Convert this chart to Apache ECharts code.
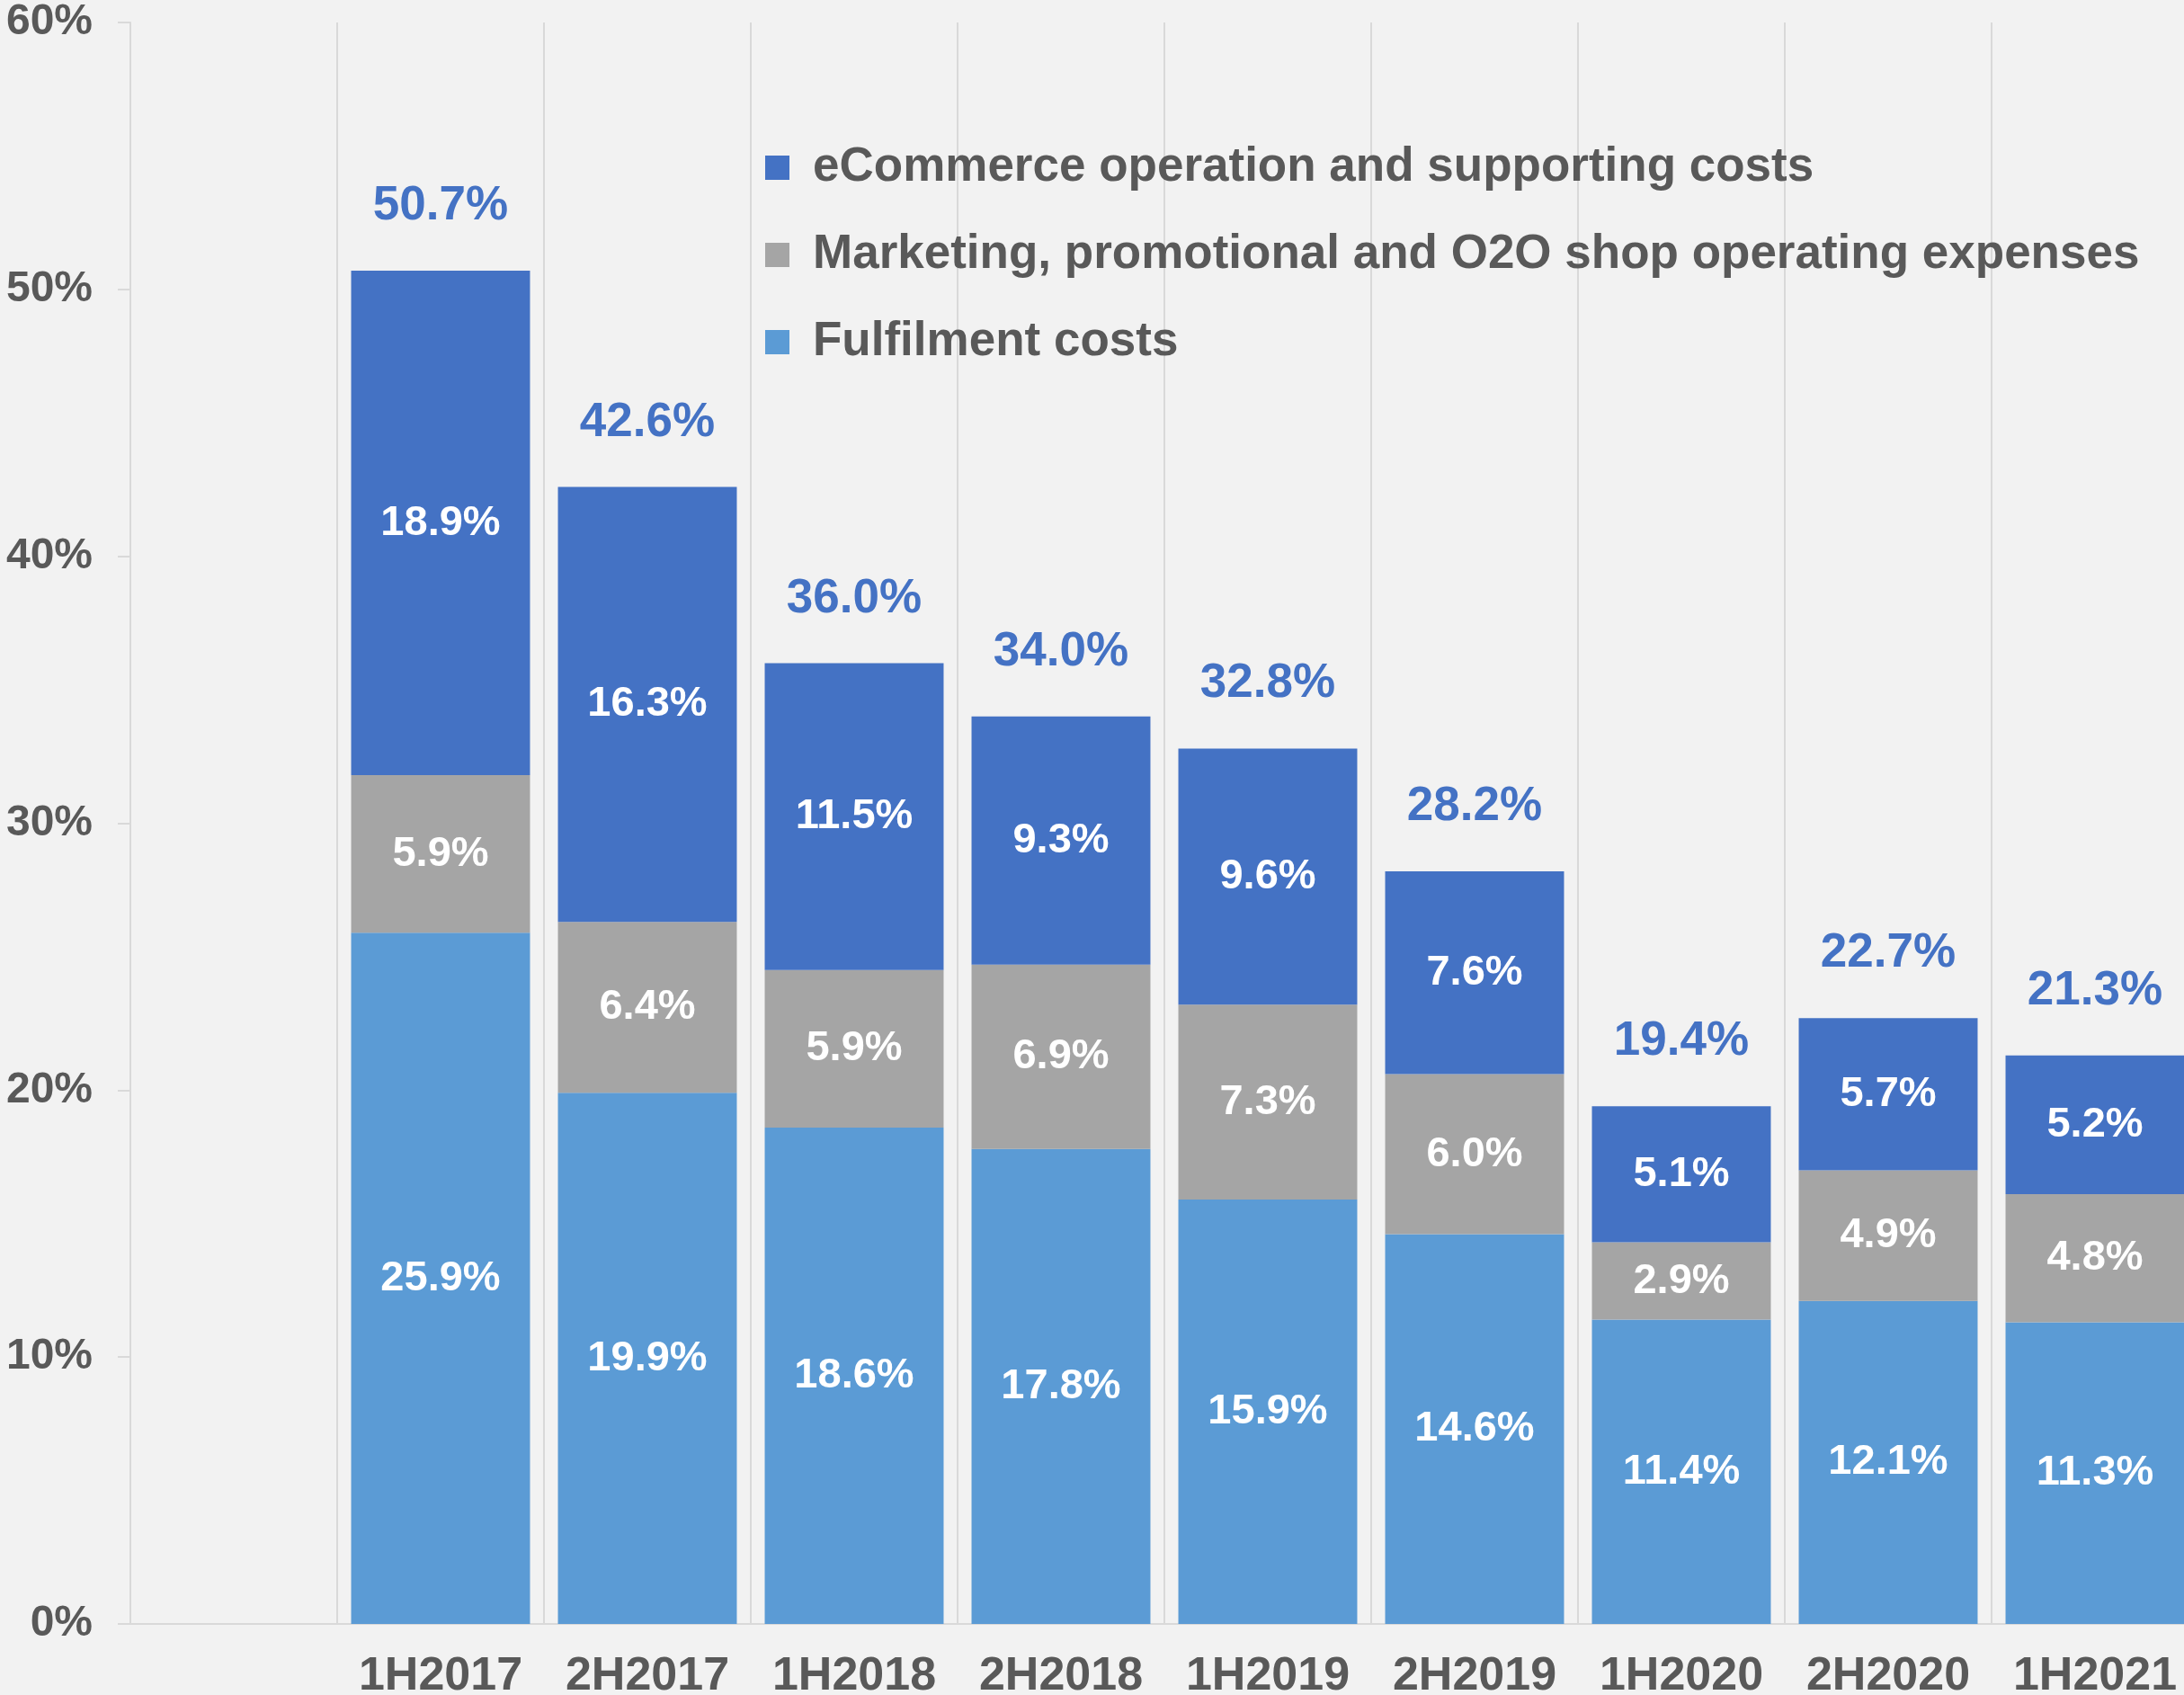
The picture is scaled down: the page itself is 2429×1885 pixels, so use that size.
<!DOCTYPE html>
<html>
<head>
<meta charset="utf-8">
<script src="https://cdn.jsdelivr.net/npm/echarts@6/dist/echarts.min.js"></script>
<style>
html,body{margin:0;padding:0;background:#F2F2F2;}
#chart{width:2429px;height:1885px;}
</style>
</head>
<body>
<div id="chart"></div>
<script>
const categories = ['', '1H2017', '2H2017', '1H2018', '2H2018', '1H2019', '2H2019', '1H2020', '2H2020', '1H2021'];
const fulfilment = [null, 25.9, 19.9, 18.6, 17.8, 15.9, 14.6, 11.4, 12.1, 11.3];
const marketing = [null, 5.9, 6.4, 5.9, 6.9, 7.3, 6.0, 2.9, 4.9, 4.8];
const ecommerce = [null, 18.9, 16.3, 11.5, 9.3, 9.6, 7.6, 5.1, 5.7, 5.2];
const totals = [null, 50.7, 42.6, 36.0, 34.0, 32.8, 28.2, 19.4, 22.7, 21.3];
const yTicks = [0, 10, 20, 30, 40, 50, 60];

const names = {
  ecom: 'eCommerce operation and supporting costs',
  mkt: 'Marketing, promotional and O2O shop operating expenses',
  ful: 'Fulfilment costs'
};

const FONT = 'Arial, "Liberation Sans", sans-serif';
const GRAY = '#595959';
const LINE = '#D9D9D9';

const innerLabel = {
  show: true,
  position: 'inside',
  color: '#FFFFFF',
  fontFamily: FONT,
  fontWeight: 'bold',
  fontSize: 47,
  formatter: p => p.value == null ? '' : p.value.toFixed(1) + '%'
};

const chart = echarts.init(document.getElementById('chart'), null, {renderer: 'canvas'});
chart.setOption({
  backgroundColor: '#F2F2F2',
  animation: false,
  grid: {left: 145, top: 25, width: 2300, bottom: 79, containLabel: false, outerBoundsMode: 'none'},
  legend: {
    data: [names.ecom, names.mkt, names.ful],
    orient: 'vertical',
    left: 846,
    top: 155,
    icon: 'rect',
    itemWidth: 27,
    itemHeight: 27,
    itemGap: 44,
    textStyle: {
      color: GRAY,
      fontFamily: FONT,
      fontWeight: 'bold',
      fontSize: 53,
      padding: [0, 0, 0, 21]
    }
  },
  xAxis: {
    type: 'category',
    data: categories,
    boundaryGap: true,
    axisLine: {show: true, lineStyle: {color: LINE, width: 2}},
    axisTick: {show: false},
    splitLine: {show: true, lineStyle: {color: LINE, width: 2}},
    axisLabel: {
      color: GRAY,
      fontFamily: FONT,
      fontWeight: 'bold',
      fontSize: 52,
      margin: 33,
      interval: 0
    }
  },
  yAxis: {
    type: 'value',
    min: yTicks[0],
    max: yTicks[yTicks.length - 1],
    interval: 10,
    axisLine: {show: true, lineStyle: {color: LINE, width: 2}},
    axisTick: {show: true, length: 14, lineStyle: {color: LINE, width: 2}},
    splitLine: {show: false},
    axisLabel: {
      color: GRAY,
      fontFamily: FONT,
      fontWeight: 'bold',
      fontSize: 48,
      margin: 42,
      formatter: '{value}%'
    }
  },
  series: [
    {
      name: names.ful,
      type: 'bar',
      stack: 'total',
      barCategoryGap: '13.5%',
      data: fulfilment,
      itemStyle: {color: '#5B9BD5'},
      label: innerLabel
    },
    {
      name: names.mkt,
      type: 'bar',
      stack: 'total',
      barCategoryGap: '13.5%',
      data: marketing,
      itemStyle: {color: '#A5A5A5'},
      label: innerLabel
    },
    {
      name: names.ecom,
      type: 'bar',
      stack: 'total',
      barCategoryGap: '13.5%',
      data: ecommerce,
      itemStyle: {color: '#4472C4'},
      label: innerLabel
    },
    {
      name: 'Total',
      type: 'scatter',
      data: totals,
      symbolSize: 0,
      itemStyle: {color: 'transparent', opacity: 1},
      silent: true,
      label: {
        show: true,
        position: 'top',
        distance: 45,
        color: '#4472C4',
        opacity: 1,
        fontFamily: FONT,
        fontWeight: 'bold',
        fontSize: 53,
        formatter: p => p.value == null ? '' : p.value.toFixed(1) + '%'
      }
    }
  ]
});
</script>
</body>
</html>
